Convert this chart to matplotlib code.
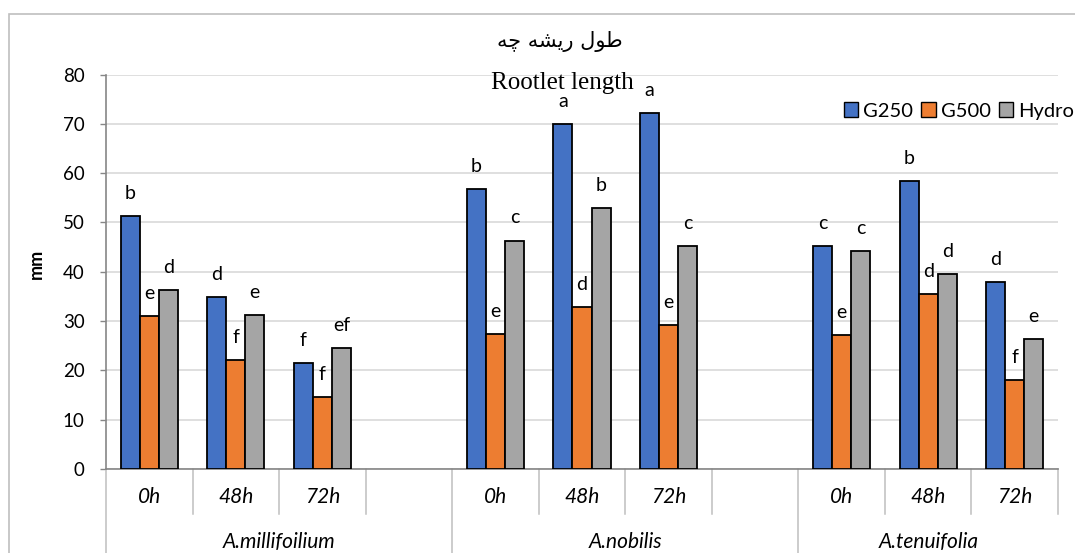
import matplotlib
matplotlib.use("Agg")
import matplotlib.pyplot as plt
from matplotlib.patches import Patch, Rectangle
from matplotlib.transforms import blended_transform_factory

# ---- data ----
species = ["A.millifoilium", "A.nobilis", "A.tenuifolia"]
times = ["0h", "48h", "72h"]
series_names = ["G250", "G500", "Hydro"]

g250 = [51.3, 34.9, 21.5, 56.8, 70.0, 72.1, 45.2, 58.4, 37.9]
g500 = [31.0, 22.1, 14.6, 27.4, 32.8, 29.2, 27.2, 35.5, 18.0]
hydro = [36.2, 31.2, 24.5, 46.3, 52.9, 45.2, 44.2, 39.6, 26.4]

letters_g250 = ["b", "d", "f", "b", "a", "a", "c", "b", "d"]
letters_g500 = ["e", "f", "f", "e", "d", "e", "e", "d", "f"]
letters_hydro = ["d", "e", "ef", "c", "b", "c", "c", "d", "e"]

colors = ["#4472C4", "#ED7D31", "#A5A5A5"]

plt.rcParams["font.family"] = ["Lato", "DejaVu Sans"]

W, H = 1075, 553
fig = plt.figure(figsize=(W / 100, H / 100), dpi=100)

# plot area in pixel terms
x0, x1 = 106, 1058
y_top, y_bot = 74.5, 469
ax = fig.add_axes([x0 / W, 1 - y_bot / H, (x1 - x0) / W, (y_bot - y_top) / H])

# slot positions: 4 slots per species (last species has 3), empty slot between groups
slots_per_group = 4
positions = []
for gi in range(len(species)):
    for ti in range(len(times)):
        positions.append(gi * slots_per_group + ti)

bw = 0.22
series = [g250, g500, hydro]
letters = [letters_g250, letters_g500, letters_hydro]
for si, (vals, labs) in enumerate(zip(series, letters)):
    xs = [p + (si - 1) * bw for p in positions]
    ax.bar(xs, vals, width=bw, color=colors[si], edgecolor="black",
           linewidth=1.3, zorder=3)
    for x, v, lab in zip(xs, vals, labs):
        ax.text(x, v + 4.6, lab, ha="center", va="center", fontsize=14,
                color="black", zorder=4)

n_slots = len(species) * slots_per_group - 1
ax.set_xlim(-0.5, n_slots - 0.5)
ax.set_ylim(0, 80)
ax.set_yticks(range(0, 81, 10))
ax.tick_params(axis="y", labelsize=13.5, length=4.5, width=1, color="#868686",
               pad=11)
ax.set_xticks([])
ax.grid(axis="y", color="#D9D9D9", linewidth=1.2, zorder=0)
for s in ["top", "right"]:
    ax.spines[s].set_visible(False)
ax.spines["left"].set_color("#868686")
ax.spines["bottom"].set_color("#868686")
ax.spines["left"].set_linewidth(1.2)
ax.spines["bottom"].set_linewidth(1.2)

fig.text(36.5 / W, 1 - 264 / H, "mm", rotation=90, ha="center", va="center",
         fontsize=13, fontweight="bold")

# category axis: separators and labels
tr = blended_transform_factory(ax.transData, fig.transFigure)
short_bottom = 1 - 514 / H
for b in range(n_slots + 1):
    xb = b - 0.5
    if b % slots_per_group == 0 and b < n_slots:
        ax.plot([xb, xb], [1 - y_bot / H, 0], color="#BFBFBF", lw=1.1,
                transform=tr, clip_on=False)
    else:
        ax.plot([xb, xb], [1 - y_bot / H, short_bottom], color="#BFBFBF",
                lw=1.1, transform=tr, clip_on=False)

for gi in range(len(species)):
    for ti, t in enumerate(times):
        ax.text(gi * slots_per_group + ti, 1 - 497 / H, t, transform=tr,
                ha="center", va="center", fontsize=15, style="italic")
    centre = gi * slots_per_group + (slots_per_group - 1) / 2
    if gi == len(species) - 1:
        centre = gi * slots_per_group + (len(times) - 1) / 2
    ax.text(centre, 1 - 542 / H, species[gi], transform=tr, ha="center",
            va="center", fontsize=15, style="italic")

# titles
persian = "\uFEEA\uFB7C \uFEEA\uFEB8\uFBFE\uFEAD \uFEDD\uFEEE\uFEC3"
fig.text(560 / W, 1 - 42 / H, persian, ha="center", va="center",
         fontsize=15, family=["DejaVu Sans"])
fig.text(562 / W, 1 - 83 / H, "Rootlet length", ha="center", va="center",
         fontsize=18, family=["Liberation Serif"])

# legend
handles = [Patch(facecolor=c, edgecolor="black", linewidth=1.0) for c in colors]
fig.legend(handles, series_names, loc="center", bbox_to_anchor=(959 / W, 1 - 111 / H),
           ncol=3, frameon=False, fontsize=14.5, handlelength=0.7,
           handleheight=0.7, handletextpad=0.25, columnspacing=0.4)

# chart border
fig.patches.append(Rectangle((9 / W, -0.1), 1.2, 1 - 14 / H + 0.1,
                             transform=fig.transFigure, fill=False,
                             edgecolor="#BFBFBF", linewidth=1.2))

fig.savefig("out.png", dpi=100)
